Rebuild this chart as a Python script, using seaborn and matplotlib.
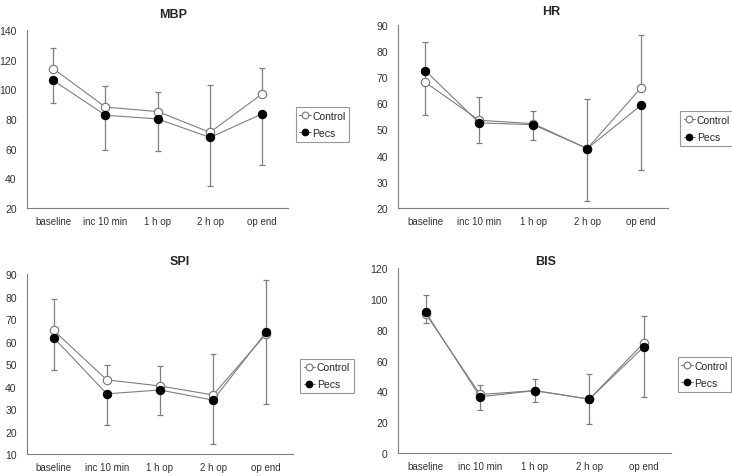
import numpy as np
import pandas as pd
import matplotlib.pyplot as plt
import seaborn as sns

timepoints = ["baseline", "inc 10 min", "1 h op", "2 h op", "op end"]

# means
mbp_control = [114, 88, 85, 71, 97]
mbp_pecs = [106, 82.5, 80, 67.5, 83.5]
hr_control = [68, 53.5, 52.2, 42.7, 66]
hr_pecs = [72.5, 52.5, 51.8, 42.7, 59.3]
spi_control = [65, 43, 40.3, 36.3, 63.5]
spi_pecs = [61.8, 36.8, 38.5, 34, 64.3]
bis_control = [90.5, 38, 40.5, 35, 71.5]
bis_pecs = [91.5, 36.5, 40.5, 35, 69]

# one-sided SD bars: control drawn upward, pecs drawn downward
mbp_control_sd = [14, 14.5, 13, 32, 17.5]
mbp_pecs_sd = [15, 23.5, 21.5, 32.5, 34.5]
hr_control_sd = [15.5, 8.8, 5, 18.8, 20.2]
hr_pecs_sd = [17, 7.5, 6, 20, 24.8]
spi_control_sd = [14, 6.5, 8.9, 18.2, 23.8]
spi_pecs_sd = [14.6, 14, 11.3, 19.7, 32.1]
bis_control_sd = [12, 6, 7.5, 16, 17.5]
bis_pecs_sd = [7, 8.5, 7.5, 16.2, 32.5]

panels = [
    ("MBP", mbp_control, mbp_pecs, mbp_control_sd, mbp_pecs_sd, (20, 140), 20),
    ("HR", hr_control, hr_pecs, hr_control_sd, hr_pecs_sd, (20, 90), 10),
    ("SPI", spi_control, spi_pecs, spi_control_sd, spi_pecs_sd, (10, 90), 10),
    ("BIS", bis_control, bis_pecs, bis_control_sd, bis_pecs_sd, (0, 120), 20),
]

# axes rect, legend anchor (left, centre y), title centre (x, y) -- figure fractions
axes_pos = [
    ([0.037, 0.562, 0.357, 0.373], (0.404, 0.737), (0.236, 0.968)),
    ([0.544, 0.562, 0.369, 0.384], (0.929, 0.728), (0.753, 0.974)),
    ([0.037, 0.046, 0.363, 0.377], (0.410, 0.210), (0.246, 0.451)),
    ([0.544, 0.048, 0.373, 0.388], (0.926, 0.213), (0.746, 0.451)),
]

sns.set_style("white")
plt.rcParams["font.family"] = ["Liberation Sans Narrow", "Liberation Sans", "DejaVu Sans"]

fig = plt.figure(figsize=(7.32, 4.77), dpi=100)
grey = "#7f7f7f"

for (title, ctrl, pecs, ctrl_sd, pecs_sd, ylim, step), (pos, leg_anchor, title_xy) in zip(panels, axes_pos):
    ax = fig.add_axes(pos)
    x = np.arange(len(timepoints))
    df = pd.DataFrame({
        "time": np.concatenate([x, x]),
        "value": ctrl + pecs,
        "group": ["Control"] * 5 + ["Pecs"] * 5,
    })

    # error bars first so markers sit on top
    ax.errorbar(x, ctrl, yerr=[np.zeros(5), ctrl_sd], fmt="none",
                ecolor=grey, elinewidth=0.9, capsize=2, capthick=0.9, zorder=1)
    ax.errorbar(x, pecs, yerr=[pecs_sd, np.zeros(5)], fmt="none",
                ecolor=grey, elinewidth=0.9, capsize=2, capthick=0.9, zorder=1)

    sns.lineplot(data=df[df.group == "Control"], x="time", y="value", ax=ax,
                 color=grey, lw=0.8, marker="o", markersize=6,
                 markerfacecolor="white", markeredgecolor=grey, markeredgewidth=0.9,
                 label="Control", legend=False, zorder=3)
    sns.lineplot(data=df[df.group == "Pecs"], x="time", y="value", ax=ax,
                 color=grey, lw=0.8, marker="o", markersize=6,
                 markerfacecolor="black", markeredgecolor="black",
                 label="Pecs", legend=False, zorder=4)

    ax.set_xlim(-0.5, 4.5)
    ax.set_ylim(*ylim)
    ax.set_yticks(np.arange(ylim[0], ylim[1] + 1, step))
    ax.set_xticks(x)
    ax.set_xticklabels(timepoints)
    ax.set_xticks(np.arange(-0.5, 5, 1), minor=True)
    ax.tick_params(axis="x", which="major", length=0, labelsize=7, pad=6, colors="#333333")
    ax.tick_params(axis="x", which="minor", length=4, width=0.8, color=grey, direction="out")
    ax.tick_params(axis="y", length=4, width=0.8, color=grey, direction="out", labelsize=7.5,
                   labelcolor="#333333")
    ax.set_xlabel("")
    ax.set_ylabel("")
    fig.text(title_xy[0], title_xy[1], title, fontsize=9, fontweight="bold",
             ha="center", va="center")
    sns.despine(ax=ax)
    for s in ("left", "bottom"):
        ax.spines[s].set_color(grey)
        ax.spines[s].set_linewidth(0.8)

    leg = ax.legend(loc="center left", bbox_to_anchor=leg_anchor,
                    bbox_transform=fig.transFigure, fontsize=7.5, frameon=True,
                    fancybox=False, edgecolor=grey, handlelength=1.1,
                    handletextpad=0.15, borderpad=0.35, borderaxespad=0,
                    labelspacing=0.7, markerscale=0.8)
    leg.get_frame().set_linewidth(0.8)

fig.savefig("out.png", dpi=100)
